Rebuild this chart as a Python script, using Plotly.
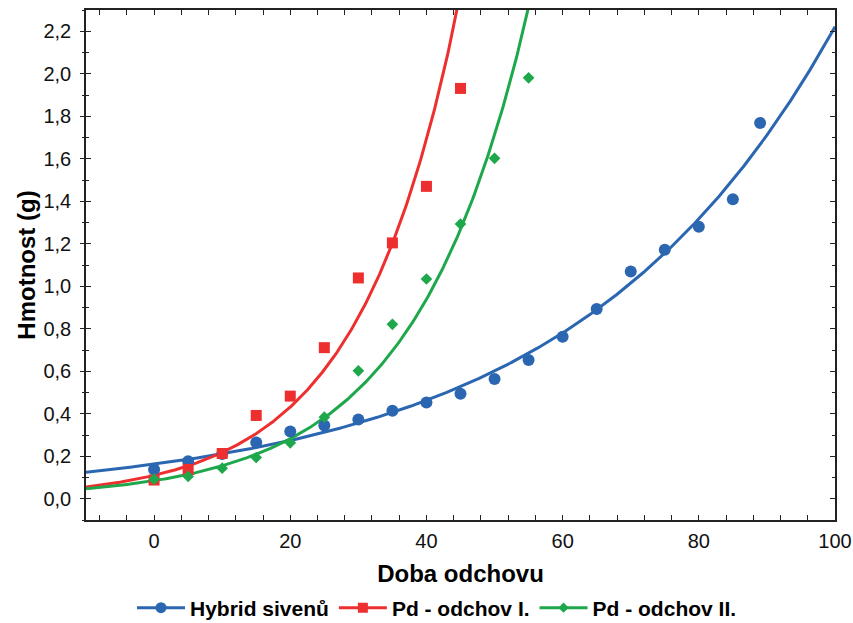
import numpy as np
import plotly.graph_objects as go

# ---- data ----
hybrid_x = [0, 5, 10, 15, 20, 25, 30, 35, 40, 45, 50, 55, 60, 65, 70, 75, 80, 85, 89]
hybrid_y = [0.138, 0.177, 0.21, 0.265, 0.316, 0.345, 0.373, 0.414, 0.453, 0.494,
            0.564, 0.653, 0.762, 0.893, 1.069, 1.172, 1.28, 1.409, 1.768]

pd1_x = [0, 5, 10, 15, 20, 25, 30, 35, 40, 45]
pd1_y = [0.088, 0.138, 0.213, 0.392, 0.483, 0.711, 1.039, 1.204, 1.470, 1.931]

pd2_x = [0, 5, 10, 15, 20, 25, 30, 35, 40, 45, 50, 55]
pd2_y = [0.092, 0.105, 0.144, 0.194, 0.263, 0.384, 0.602, 0.821, 1.034, 1.293, 1.602, 1.981]

series_names = ["Hybrid sivenů", "Pd - odchov I.", "Pd - odchov II."]
colors = ["#2B66B1", "#EE2F2F", "#1EA84B"]
symbols = ["circle", "square", "diamond"]
marker_sizes = [12, 11, 9]

x_ticks = [0, 20, 40, 60, 80, 100]
y_ticks = [0.0, 0.2, 0.4, 0.6, 0.8, 1.0, 1.2, 1.4, 1.6, 1.8, 2.0, 2.2]

x_title = "Doba odchovu"
y_title = "Hmotnost (g)"

FONT = "Liberation Sans, Arial, sans-serif"

fig = go.Figure()

xs_curve = np.linspace(-10, 100, 600)
datasets = [(hybrid_x, hybrid_y), (pd1_x, pd1_y), (pd2_x, pd2_y)]

for (xd, yd), name, col, sym, ms in zip(datasets, series_names, colors, symbols, marker_sizes):
    # exponential fit y = a*exp(b*x) (log-linear least squares)
    b, ln_a = np.polyfit(np.array(xd, float), np.log(np.array(yd, float)), 1)
    yc = np.exp(ln_a) * np.exp(b * xs_curve)
    fig.add_trace(go.Scatter(x=xs_curve, y=yc, mode="lines",
                             line=dict(color=col, width=3), showlegend=False,
                             hoverinfo="skip"))
for (xd, yd), name, col, sym, ms in zip(datasets, series_names, colors, symbols, marker_sizes):
    fig.add_trace(go.Scatter(x=xd, y=yd, mode="markers",
                             marker=dict(color=col, symbol=sym, size=ms, line=dict(width=0)),
                             showlegend=False, name=name))
for name, col, sym, ms in zip(series_names, colors, symbols, marker_sizes):
    fig.add_trace(go.Scatter(x=[None], y=[None], mode="lines+markers", name=name,
                             line=dict(color=col, width=3),
                             marker=dict(color=col, symbol=sym, size=ms - 1)))

# dummy trace to show the outward part of the left ticks
fig.add_trace(go.Scatter(x=[None], y=[None], yaxis="y2", showlegend=False))

tickfont = dict(family=FONT, size=20, color="#111")

fig.update_layout(
    width=853, height=623,
    margin=dict(l=86, r=18, t=10, b=103),
    paper_bgcolor="white", plot_bgcolor="white",
    separators=", ",
    font=dict(family=FONT, color="#111"),
    xaxis=dict(
        range=[-10, 100], tickvals=x_ticks, tickformat="d", automargin=False,
        ticks="inside", ticklen=5, tickwidth=1, tickcolor="#222",
        minor=dict(dtick=4, tick0=0, ticks="inside", ticklen=3, tickcolor="#222", tickwidth=1),
        showline=True, linecolor="#222", linewidth=1.5, mirror="allticks",
        showgrid=False, zeroline=False, tickfont=tickfont, ticklabelstandoff=2,
        title=dict(text=f"<b>{x_title}</b>", font=dict(family=FONT, size=24, color="#000"),
                   standoff=22),
    ),
    yaxis=dict(
        range=[-0.1, 2.3], tickvals=y_ticks, tickformat=".1f", automargin=False,
        ticks="inside", ticklen=5, tickwidth=1, tickcolor="#222",
        minor=dict(dtick=0.1, tick0=0, ticks="inside", ticklen=3, tickcolor="#222", tickwidth=1),
        showline=True, linecolor="#222", linewidth=1.5, mirror="allticks",
        showgrid=False, zeroline=False, tickfont=tickfont, ticklabelstandoff=9,
        title=dict(text=f"<b>{y_title}</b>", font=dict(family=FONT, size=24, color="#000"),
                   standoff=1),
    ),
    yaxis2=dict(
        range=[-0.1, 2.3], tickvals=y_ticks, overlaying="y", side="left", automargin=False,
        ticks="outside", ticklen=5, tickwidth=1, tickcolor="#222",
        minor=dict(dtick=0.1, tick0=0, ticks="outside", ticklen=3, tickcolor="#222", tickwidth=1),
        showticklabels=False, showline=False, showgrid=False, zeroline=False,
    ),
    legend=dict(orientation="h", x=437 / 853, xanchor="center", xref="container",
                y=(623 - 608) / 623, yanchor="middle", yref="container",
                font=dict(family=FONT, size=21, color="#000", weight="bold"),
                itemwidth=48, tracegroupgap=0, bgcolor="rgba(0,0,0,0)"),
)

fig.write_html("out.html", config={"displayModeBar": False},
               post_script="document.body.style.margin='0';document.body.style.overflow='hidden';")
